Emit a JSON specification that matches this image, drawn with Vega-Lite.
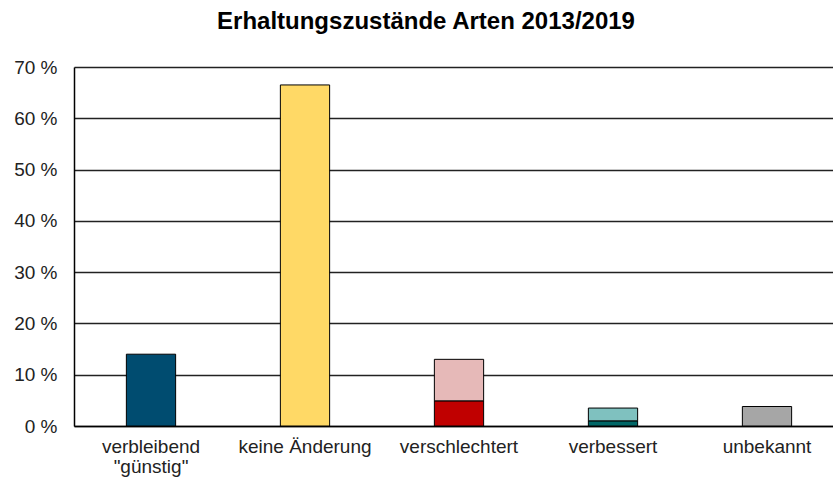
{
  "$schema": "https://vega.github.io/schema/vega-lite/v6.json",
  "autosize": {"type": "none"},
  "padding": {"left": 74, "top": 67, "right": 0, "bottom": 59},
  "width": 770,
  "height": 359,
  "background": "white",
  "title": {
    "text": "Erhaltungszustände Arten 2013/2019",
    "font": "Liberation Sans",
    "fontSize": 24,
    "fontWeight": "bold",
    "color": "#000000",
    "anchor": "middle",
    "dx": -33,
    "offset": 24
  },
  "data": {
    "values": [
      {"kategorie": "verbleibend \"günstig\"", "teil": "verbleibend günstig", "ordnung": 1, "anteil": 14.0},
      {"kategorie": "keine Änderung", "teil": "keine Änderung", "ordnung": 1, "anteil": 66.5},
      {"kategorie": "verschlechtert", "teil": "verschlechtert (stark)", "ordnung": 1, "anteil": 4.9},
      {"kategorie": "verschlechtert", "teil": "verschlechtert", "ordnung": 2, "anteil": 8.1},
      {"kategorie": "verbessert", "teil": "verbessert (stark)", "ordnung": 1, "anteil": 1.0},
      {"kategorie": "verbessert", "teil": "verbessert", "ordnung": 2, "anteil": 2.5},
      {"kategorie": "unbekannt", "teil": "unbekannt", "ordnung": 1, "anteil": 3.8}
    ]
  },
  "mark": {"type": "bar", "stroke": "#000000", "strokeWidth": 1},
  "encoding": {
    "x": {
      "field": "kategorie",
      "type": "nominal",
      "sort": ["verbleibend \"günstig\"", "keine Änderung", "verschlechtert", "verbessert", "unbekannt"],
      "scale": {"paddingInner": 0.68, "paddingOuter": 0.34},
      "axis": {
        "title": null,
        "labelAngle": 0,
        "labelFont": "Liberation Sans",
        "labelFontSize": 19,
        "labelColor": "#222222",
        "labelPadding": 11,
        "labelLineHeight": 20,
        "ticks": false,
        "domainColor": "#000000",
        "domainWidth": 1.5,
        "labelExpr": "datum.label == 'verbleibend \"günstig\"' ? ['verbleibend', '\"günstig\"'] : datum.label"
      }
    },
    "y": {
      "field": "anteil",
      "type": "quantitative",
      "stack": "zero",
      "scale": {"domain": [0, 70], "nice": false},
      "axis": {
        "title": null,
        "values": [0, 10, 20, 30, 40, 50, 60, 70],
        "labelExpr": "datum.value + ' %'",
        "labelFont": "Liberation Sans",
        "labelFontSize": 19,
        "labelColor": "#222222",
        "labelPadding": 17,
        "ticks": false,
        "domainColor": "#000000",
        "domainWidth": 1.5,
        "grid": true,
        "gridColor": "#222222",
        "gridWidth": 1.5
      }
    },
    "color": {
      "field": "teil",
      "type": "nominal",
      "legend": null,
      "scale": {
        "domain": ["verbleibend günstig", "keine Änderung", "verschlechtert (stark)", "verschlechtert", "verbessert (stark)", "verbessert", "unbekannt"],
        "range": ["#004c70", "#ffd966", "#c00000", "#e6b9b8", "#006666", "#7fc1bf", "#a6a6a6"]
      }
    },
    "order": {"field": "ordnung", "type": "quantitative"}
  },
  "config": {"view": {"stroke": null}}
}
